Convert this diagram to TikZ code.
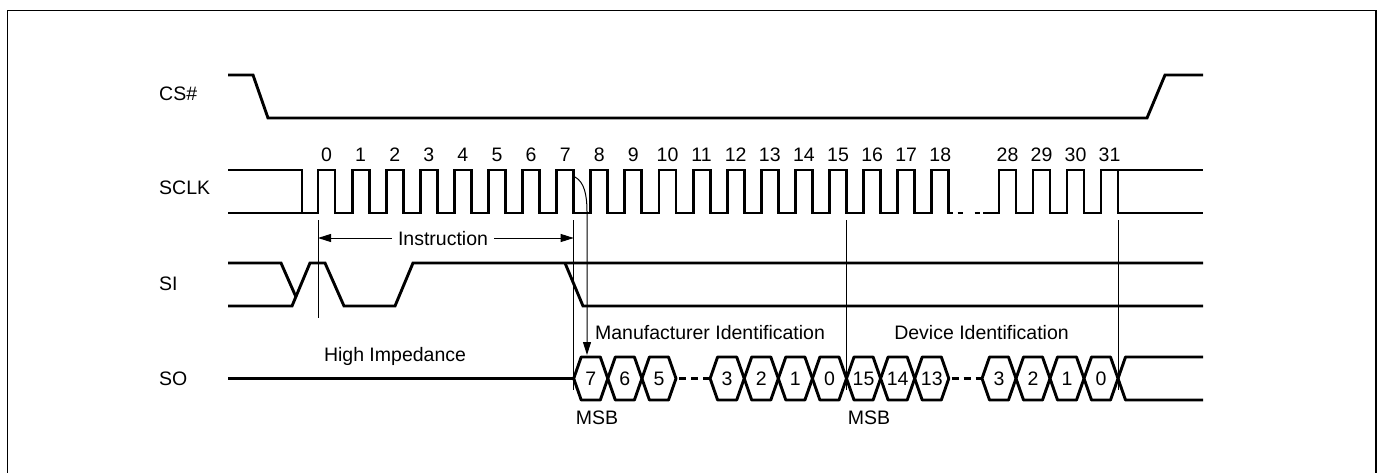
\documentclass[tikz,border=0pt]{standalone}
\usepackage{fontspec}
\setmainfont{Liberation Sans}
\usetikzlibrary{arrows.meta}
\begin{document}
\begin{tikzpicture}[x=1pt,y=-1pt,
  sig/.style={line width=2.9pt, line join=miter, line cap=butt},
  bus/.style={line width=2.9pt, line join=round, line cap=butt},
  thinline/.style={line width=1pt},
  lbl/.style={inner sep=0pt, font=\fontsize{19.5}{22}\selectfont},
  arr/.style={thinline, -{Triangle[length=13pt,width=8pt]}},
  arrb/.style={thinline, {Triangle[length=13pt,width=8pt]}-{Triangle[length=13pt,width=8pt]}}]
\useasboundingbox (0,0) rectangle (1383,473);
\begin{scope}
\clip (0,0) rectangle (1383,473);
\draw[line width=1.2pt] (7.3,10.7) rectangle (1376,500);
\end{scope}

% signal names
\node[lbl, anchor=west] (lcs) at (159,94) {CS\#};
\node[lbl, anchor=west] (lsclk) at (159,188) {SCLK};
\node[lbl, anchor=west] (lsi) at (159,284) {SI};
\node[lbl, anchor=west] (lso) at (159,379) {SO};

% CS#
\draw[sig] (228,75) -- (253,75) -- (268,118) -- (1147,118) -- (1165,75) -- (1203,75);

% SCLK
\draw[sig] (228,170) -- (302,170) -- (302,213);
\draw[sig] (228,213)
  \foreach \k [evaluate=\k as \r using 318+34.1*\k, evaluate=\k as \f using 335+34.1*\k] in {0,...,18}
    { -- (\r,213) -- (\r,170) -- (\f,170) -- (\f,213) }
  -- (953,213);
\draw[sig] (957.5,213) -- (962.5,213);
\draw[sig] (974.5,213) -- (979.5,213);
\draw[sig] (983,213)
  \foreach \k [evaluate=\k as \r using 999+34*(\k-28), evaluate=\k as \f using 1016+34*(\k-28)] in {28,29,30}
    { -- (\r,213) -- (\r,170) -- (\f,170) -- (\f,213) }
  -- (1101,213) -- (1101,170) -- (1203,170);
\draw[sig] (1118,170) -- (1118,213) -- (1203,213);

% clock numbers
\foreach \k [evaluate=\k as \c using 326.5+34.1*\k] in {0,...,18}
  \node[lbl] (n\k) at (\c,155) {\k};
\foreach \k [evaluate=\k as \c using 1007.5+34*(\k-28)] in {28,...,31}
  \node[lbl] (n\k) at (\c,155) {\k};

% SI
\draw[sig] (228,263) -- (281,263) -- (296,297);
\draw[sig] (228,306) -- (292,306) -- (310,263) -- (325,263) -- (344,306) -- (395,306) -- (413,263) -- (1203,263);
\draw[sig] (565,263) -- (583,306) -- (1203,306);

% marker lines
\coordinate (m0t) at (318,220);
\coordinate (m0b) at (318,318);
\draw[thinline] (m0t) -- (m0b);
\coordinate (m7t) at (573.7,220);
\coordinate (m7b) at (573.7,390);
\draw[thinline] (m7t) -- (m7b);
\coordinate (m15t) at (846.5,220);
\coordinate (m15b) at (846.5,390);
\draw[thinline] (m15t) -- (m15b);
\coordinate (m31t) at (1118,220);
\coordinate (m31b) at (1118,390);
\draw[thinline] (m31t) -- (m31b);

% Instruction arrow
\coordinate (instL) at (318,238);
\coordinate (instR) at (573.7,238);
\draw[arrb] (instL) -- (instR);
\node[lbl, fill=white, inner xsep=6pt, inner ysep=2pt] (inst) at (443,239) {Instruction};

% curved arrow from clock 7 falling edge to SO bit 7
\coordinate (c7) at (575,177);
\coordinate (so7) at (587,355);
\draw[arr] (c7) .. controls (584,182) and (587,194) .. (587,212) -- (so7);

% SO
\draw[sig] (228,378.5) -- (573.7,378.5);
\def\w{7.5}
\foreach \L/\R/\t [count=\i] in {573.7/607.8/7, 607.8/641.9/6, 641.9/676/5,
  710.1/744.2/3, 744.2/778.3/2, 778.3/812.4/1, 812.4/846.5/0,
  846.5/880.6/15, 880.6/914.7/14, 914.7/948.8/13,
  982/1016/3, 1016/1050/2, 1050/1084/1, 1084/1118/0}
{
  \draw[bus] (\L,378.5) -- (\L+\w,357) -- (\R-\w,357) -- (\R,378.5) -- (\R-\w,400) -- (\L+\w,400) -- cycle;
  \node[lbl] (b\i) at ({(\L+\R)/2},379) {\t};
}
\draw[bus] (1118,378.5) -- (1118+\w,357) -- (1203,357);
\draw[bus] (1118,378.5) -- (1118+\w,400) -- (1203,400);
\draw[sig, dash pattern=on 7pt off 5pt] (679,378.5) -- (710.1,378.5);
\draw[sig, dash pattern=on 7pt off 5pt] (951.5,378.5) -- (982,378.5);

% SO texts
\node[lbl] (manu) at (710,333) {Manufacturer Identification};
\node[lbl] (dev) at (981.5,333) {Device Identification};
\node[lbl, anchor=base] (hiz) at (395,361) {High Impedance};
\node[lbl] (msb1) at (597,418) {MSB};
\node[lbl] (msb2) at (869,418) {MSB};
\end{tikzpicture}
\end{document}
